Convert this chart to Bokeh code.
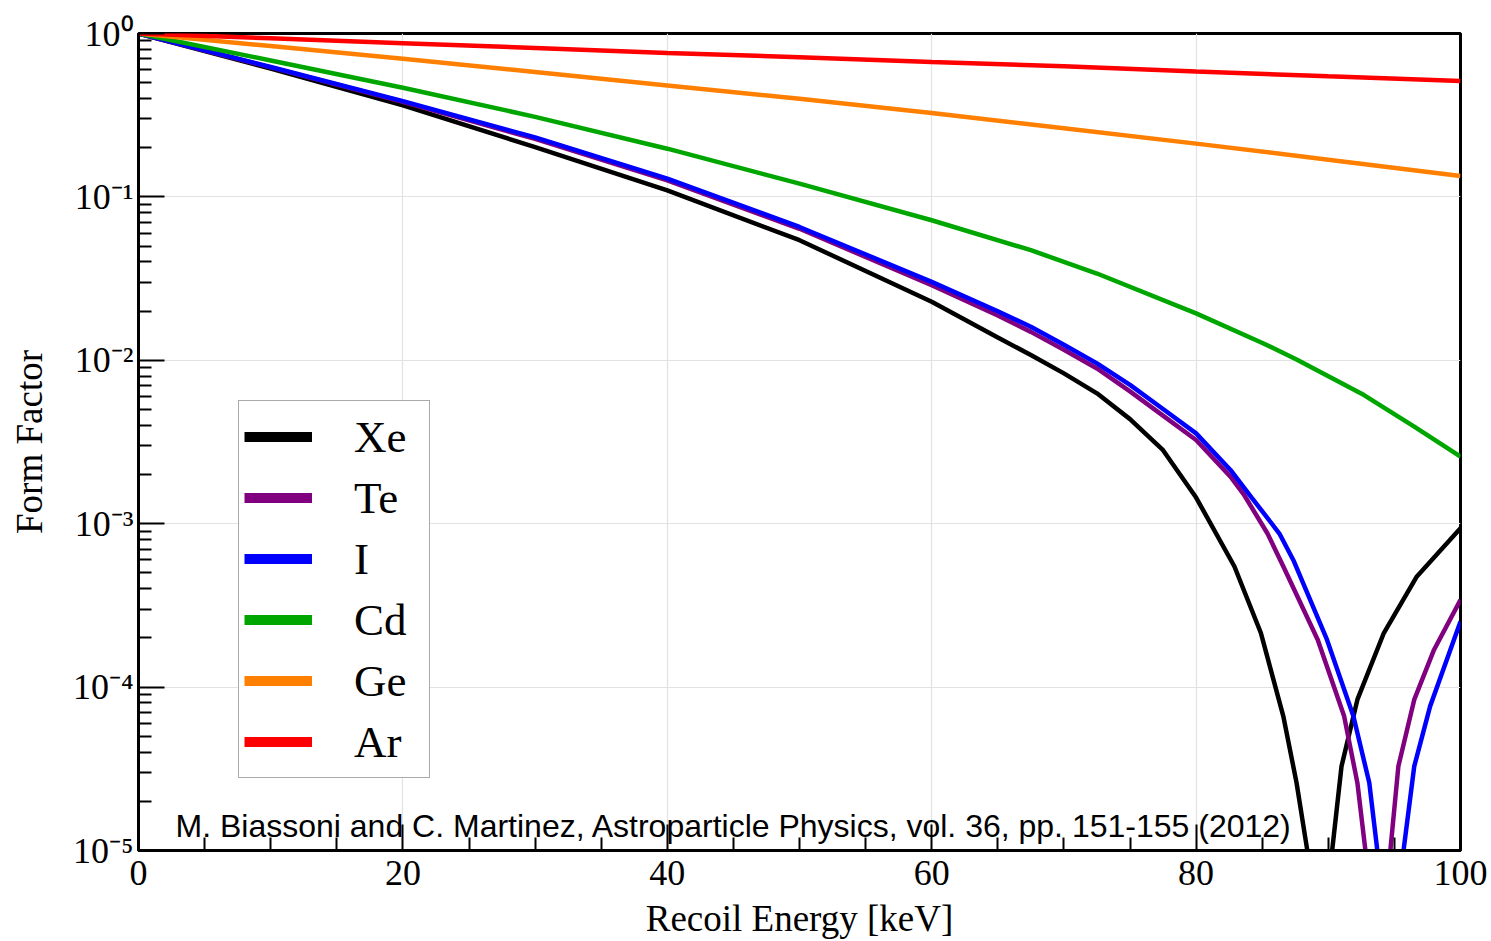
from bokeh.plotting import figure
from bokeh.models import Range1d, FixedTicker, Legend, LegendItem, Label
from bokeh.embed import file_html
from bokeh.resources import INLINE

# ---------------- data ----------------
# form factors are given as log10 values;
# the value -9 marks the zero (the dip that leaves the bottom of the axis)
energy_xe = [0, 10, 20, 30, 40, 50, 60, 65, 67.5, 70, 72.5, 75, 77.5, 80, 82.9, 84.9, 86.6,
             87.6, 88.4, 89.35, 90.3, 91.0, 92.2, 94.2, 96.7, 100]
logff_xe = [0, -0.215, -0.44, -0.695, -0.960, -1.265, -1.642, -1.86, -1.968, -2.08, -2.202,
            -2.36, -2.55, -2.84, -3.262, -3.669, -4.179, -4.586, -4.994, -9, -4.994, -4.485,
            -4.077, -3.669, -3.323, -3.028]

energy_te = [0, 10, 20, 30, 40, 50, 60, 65, 67.5, 70, 72.5, 75, 77.6, 80, 82.6, 83.6, 85.4,
             86.6, 89.2, 91.2, 92.2, 92.8, 93.75, 94.7, 95.3, 96.5, 98.0, 100]
logff_te = [0, -0.207, -0.418, -0.645, -0.899, -1.195, -1.540, -1.725, -1.826, -1.935, -2.05,
            -2.19, -2.345, -2.488, -2.712, -2.82, -3.06, -3.262, -3.71, -4.179, -4.586, -4.994,
            -9, -4.994, -4.485, -4.077, -3.771, -3.466]

energy_i = [0, 10, 20, 30, 40, 50, 60, 65, 67.5, 70, 72.5, 75, 77.6, 80, 82.6, 84.2, 86.3,
            87.4, 89.9, 91.9, 93.1, 93.7, 94.7, 95.7, 96.5, 97.7, 100]
logff_i = [0, -0.205, -0.414, -0.636, -0.888, -1.184, -1.520, -1.70, -1.795, -1.905, -2.019,
           -2.15, -2.304, -2.447, -2.671, -2.84, -3.06, -3.23, -3.71, -4.179, -4.586, -4.994,
           -9, -4.994, -4.485, -4.118, -3.598]

energy_cd = [0, 10, 20, 30, 40, 50, 60, 67.5, 72.5, 80, 85.1, 87.6, 92.7, 96.5, 100]
logff_cd = [0, -0.165, -0.332, -0.51, -0.705, -0.919, -1.143, -1.326, -1.469, -1.713, -1.897,
            -1.995, -2.213, -2.406, -2.59]

energy_ge = [0, 10, 20, 30, 40, 50, 60, 70, 80, 90, 100]
logff_ge = [0, -0.077, -0.155, -0.236, -0.318, -0.399, -0.487, -0.58, -0.674, -0.772, -0.872]

energy_ar = [0, 10, 20, 30, 40, 50, 60, 70, 80, 90, 100]
logff_ar = [0, -0.029, -0.059, -0.088, -0.120, -0.145, -0.175, -0.200, -0.232, -0.262, -0.291]

series_names = ["Xe", "Te", "I", "Cd", "Ge", "Ar"]

xtick_vals = [0, 20, 40, 60, 80, 100]
xtick_minor = [5, 10, 15, 25, 30, 35, 45, 50, 55, 65, 70, 75, 85, 90, 95]
ytick_vals = [1e-5, 1e-4, 1e-3, 1e-2, 1e-1, 1.0]
ytick_labels = ["10\u207b\u2075", "10\u207b\u2074", "10\u207b\u00b3", "10\u207b\u00b2",
                "10\u207b\u00b9", "10\u2070"]

x_title = "Recoil Energy [keV]"
y_title = "Form Factor"
citation = "M. Biassoni and C. Martinez, Astroparticle Physics, vol. 36, pp. 151-155 (2012)"

# ---------------- styling ----------------
colors = ["#000000", "#800080", "#0000ff", "#00a600", "#ff8000", "#ff0000"]
serif = "Liberation Serif"

p = figure(width=1491, height=941, y_axis_type="log",
           x_range=Range1d(0, 100), y_range=Range1d(1e-5, 1.0),
           output_backend="svg", toolbar_location=None, title=None,
           min_border_left=138, min_border_right=31, min_border_top=33, min_border_bottom=90,
           background_fill_color="white", border_fill_color="white")

data = [(energy_xe, logff_xe), (energy_te, logff_te), (energy_i, logff_i),
        (energy_cd, logff_cd), (energy_ge, logff_ge), (energy_ar, logff_ar)]

for (ex, lf), c in zip(data, colors):
    p.line(ex, [10.0 ** v for v in lf], line_color=c, line_width=4.5)

# legend proxies (thicker lines as in the reference)
nan = float("nan")
items = []
for name, c in zip(series_names, colors):
    r = p.line(x=[nan], y=[nan], line_color=c, line_width=10)
    items.append(LegendItem(label=name, renderers=[r]))

legend = Legend(items=items, location=(100, 72), margin=0, padding=5, spacing=0,
                glyph_width=68, glyph_height=61, label_height=61, label_width=70,
                label_standoff=42, label_text_font=serif, label_text_font_size="45px",
                label_text_color="black",
                border_line_color="#555555", border_line_width=1.5,
                background_fill_color="white", background_fill_alpha=1.0)
p.add_layout(legend)

p.add_layout(Label(x=2.8, y=1.42e-5, text=citation, text_font="Liberation Sans",
                   text_font_size="32px", text_color="black", text_baseline="alphabetic"))

# axes
p.xaxis.ticker = FixedTicker(ticks=xtick_vals, minor_ticks=xtick_minor)
p.yaxis.ticker = FixedTicker(ticks=ytick_vals,
                             minor_ticks=[k * d for d in [1e-5, 1e-4, 1e-3, 1e-2, 1e-1]
                                          for k in range(2, 10)])
p.yaxis.major_label_overrides = dict(zip(ytick_vals, ytick_labels))

for ax in (p.xaxis, p.yaxis):
    ax.axis_line_width = 3
    ax.axis_line_color = "black"
    ax.major_tick_in = 26
    ax.major_tick_out = 0
    ax.minor_tick_in = 13
    ax.minor_tick_out = 0
    ax.major_tick_line_width = 2
    ax.minor_tick_line_width = 2
    ax.major_tick_line_color = "black"
    ax.minor_tick_line_color = "black"
    ax.major_label_text_font = serif
    ax.major_label_text_font_size = "36px"
    ax.major_label_text_color = "black"
    ax.axis_label_text_font = serif
    ax.axis_label_text_font_size = "37px"
    ax.axis_label_text_font_style = "normal"
    ax.axis_label_text_color = "black"

p.xaxis.axis_label = x_title
p.yaxis.axis_label = y_title
p.xaxis.major_label_standoff = 10
p.xaxis.axis_label_standoff = 10
p.yaxis.major_label_standoff = 5
p.yaxis.axis_label_standoff = 20

p.xgrid.grid_line_color = "#e2e2e2"
p.ygrid.grid_line_color = "#e2e2e2"
p.xgrid.grid_line_width = 1.2
p.ygrid.grid_line_width = 1.2

p.outline_line_color = "black"
p.outline_line_width = 3
p.outline_line_alpha = 1.0

open("out.html", "w").write(file_html(p, INLINE))
